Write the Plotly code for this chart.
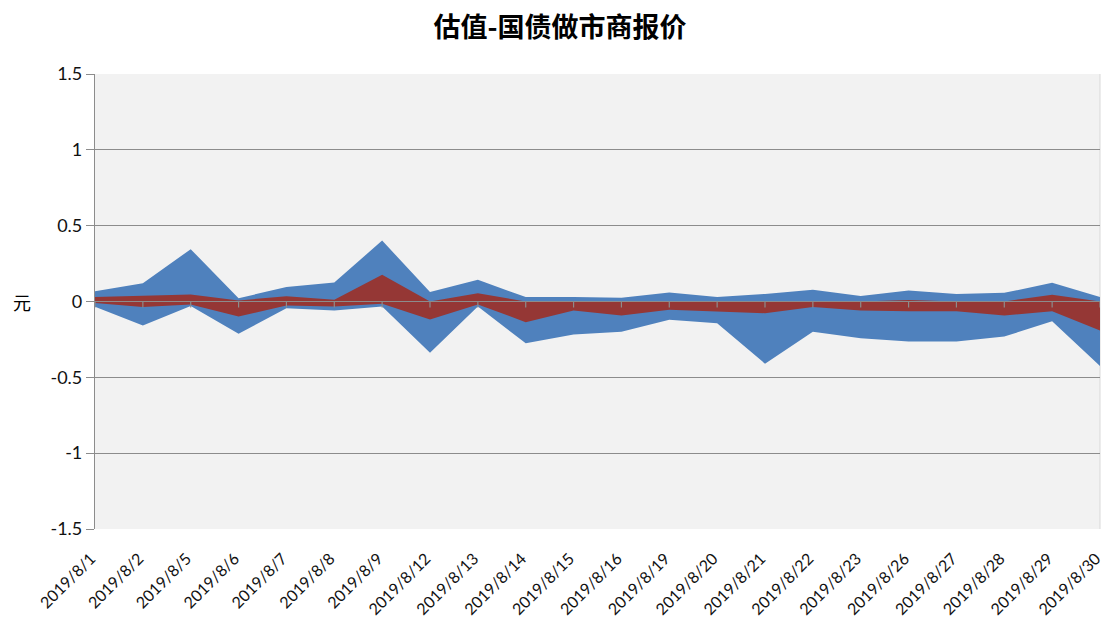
import plotly.graph_objects as go

dates = ["2019/8/1", "2019/8/2", "2019/8/5", "2019/8/6", "2019/8/7", "2019/8/8",
         "2019/8/9", "2019/8/12", "2019/8/13", "2019/8/14", "2019/8/15", "2019/8/16",
         "2019/8/19", "2019/8/20", "2019/8/21", "2019/8/22", "2019/8/23", "2019/8/26",
         "2019/8/27", "2019/8/28", "2019/8/29", "2019/8/30"]

# outer band (blue): upper and lower bounds
blue_upper = [0.068, 0.12, 0.345, 0.022, 0.095, 0.125, 0.402, 0.062, 0.143, 0.029, 0.029,
              0.024, 0.059, 0.029, 0.05, 0.077, 0.037, 0.073, 0.05, 0.057, 0.123, 0.029]
blue_lower = [-0.035, -0.158, -0.03, -0.213, -0.044, -0.059, -0.033, -0.338, -0.033, -0.275,
              -0.218, -0.2, -0.121, -0.143, -0.41, -0.2, -0.242, -0.264, -0.264, -0.231,
              -0.13, -0.426]

# inner band (red): upper and lower bounds
red_upper = [0.029, 0.037, 0.046, 0.007, 0.035, 0.011, 0.176, 0.0, 0.055, 0.0, 0.0,
             0.0, 0.0, 0.0, 0.0, 0.0, 0.0, 0.01, 0.0, 0.0, 0.044, 0.0]
red_lower = [-0.01, -0.037, -0.02, -0.099, -0.026, -0.033, -0.015, -0.119, -0.02, -0.136,
             -0.059, -0.092, -0.055, -0.064, -0.077, -0.037, -0.059, -0.064, -0.064, -0.092,
             -0.064, -0.191]

y_ticks = [-1.5, -1, -0.5, 0, 0.5, 1, 1.5]
y_ticktext = ["-1.5", "-1", "-0.5", "0", "0.5", "1", "1.5"]

BLUE = "#4F81BD"
RED = "#953735"
GRID = "#8C8C8C"

fig = go.Figure()
for vals, color in [(blue_upper, BLUE), (blue_lower, BLUE), (red_upper, RED), (red_lower, RED)]:
    fig.add_trace(go.Scatter(
        x=dates, y=vals, mode="lines", fill="tozeroy",
        line=dict(width=0, color=color), fillcolor=color,
        hoverinfo="x+y", showlegend=False,
    ))

# horizontal category axis crossing at zero, drawn above the areas
shapes = [dict(type="line", xref="paper", yref="y", x0=0, x1=1, y0=0, y1=0,
               line=dict(color=GRID, width=1.2), layer="above")]
for d in dates:
    shapes.append(dict(type="line", xref="x", yref="y", x0=d, x1=d,
                       ysizemode="pixel", yanchor=0, y0=0, y1=-6,
                       line=dict(color=GRID, width=1.2), layer="above"))
# right edge of the plot area
shapes.append(dict(type="line", xref="paper", yref="paper", x0=1, x1=1, y0=0, y1=1,
                   line=dict(color="#D9D9D9", width=1), layer="below"))

fig.update_layout(
    width=1105, height=620,
    margin=dict(l=95, r=5, t=74, b=91),
    paper_bgcolor="white",
    plot_bgcolor="#F2F2F2",
    font=dict(family="Lato, Carlito, Calibri, sans-serif", size=18, color="#111111"),
    title=dict(text="估值-国债做市商报价", x=560 / 1105, xref="container", xanchor="center",
               y=1 - 28 / 620, yref="container", yanchor="middle",
               font=dict(family="Noto Sans CJK SC", size=27, color="black", weight="bold")),
    shapes=shapes,
    annotations=[dict(text="元", xref="paper", yref="y", x=-73 / 1005, y=0,
                      xanchor="center", yanchor="middle", showarrow=False,
                      font=dict(family="Noto Sans CJK SC", size=18, color="black"))],
    showlegend=False,
)

fig.update_xaxes(
    type="category", range=[0, len(dates) - 1], automargin=False,
    tickangle=-45, ticks="outside", ticklen=13, tickcolor="rgba(0,0,0,0)",
    ticklabelshift=-4,
    showgrid=False, zeroline=False, showline=False,
    tickfont=dict(size=16),
)
fig.update_yaxes(
    range=[-1.5, 1.5], tickvals=y_ticks, ticktext=y_ticktext, automargin=False,
    showgrid=True, gridcolor=GRID, gridwidth=1,
    zeroline=False, showline=True, linecolor=GRID, linewidth=1.2,
    ticks="outside", ticklen=8, tickcolor=GRID,
    tickfont=dict(size=18),
)

fig.write_html("out.html")
